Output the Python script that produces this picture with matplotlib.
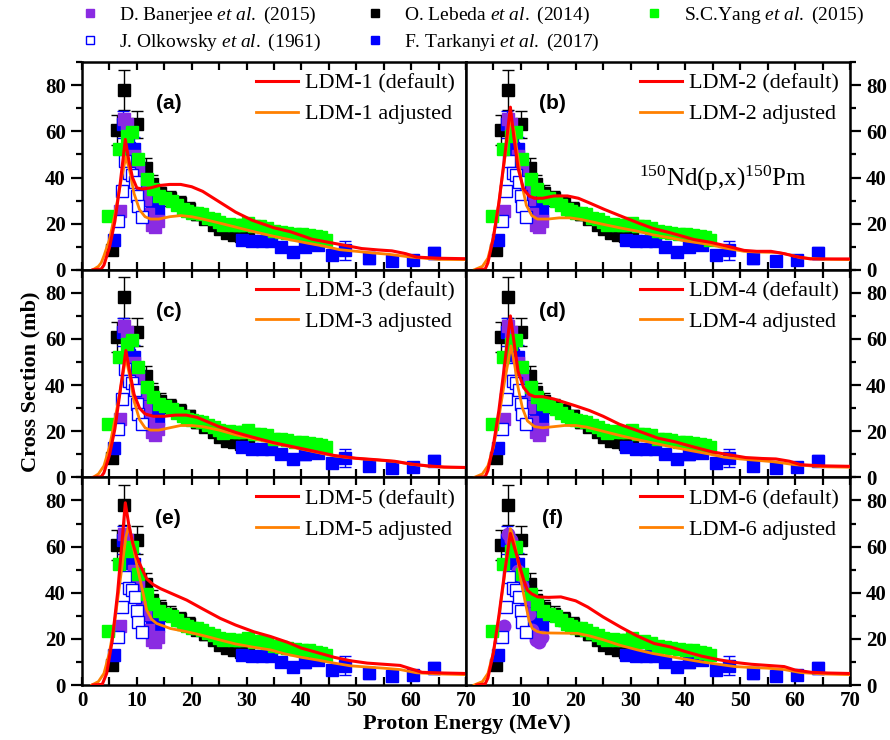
import matplotlib
matplotlib.use("Agg")
import matplotlib.pyplot as plt
from matplotlib.ticker import MultipleLocator, FuncFormatter, NullFormatter
from matplotlib.lines import Line2D

plt.rcParams['font.family'] = ['Liberation Serif', 'DejaVu Serif']
plt.rcParams['mathtext.fontset'] = 'custom'
plt.rcParams['mathtext.rm'] = 'Liberation Serif'
plt.rcParams['mathtext.it'] = 'Liberation Serif:italic'

# ---------------- experimental data ----------------
E_ban = [6.9, 7.6, 8.2, 9.4, 10.3, 10.9, 11.5, 12.1, 12.7, 13.3, 13.9]
S_ban = [25.5, 65.5, 63.0, 49.5, 43.0, 36.4, 30.6, 24.0, 19.6, 18.5, 21.0]

E_olk = [6.6, 7.3, 7.9, 8.5, 9.1, 9.7, 10.0, 10.3, 10.9]
S_olk = [21.0, 34.0, 47.0, 42.0, 41.0, 38.0, 32.0, 27.5, 23.0]

E_leb = [5.4, 6.3, 7.7, 10.0, 11.7, 12.7, 14.3, 16.1, 17.9, 19.5, 21.0, 22.5, 24.0, 25.2, 26.4, 27.7, 29.0, 30.3]
S_leb = [8.5, 60.8, 78.0, 63.0, 44.0, 37.0, 33.2, 31.0, 28.8, 26.5, 24.0, 22.0, 19.6, 17.5, 15.9, 15.2, 14.5, 14.0]
dS_leb = [1.0, 6.5, 8.7, 6.0, 4.5, 4.0, 3.5, 3.2, 3.0, 2.8, 2.5, 2.3, 2.1, 2.0, 1.8, 1.6, 1.5, 1.5]

E_tar = [5.8, 7.4, 8.5, 9.4, 10.3, 11.2, 11.9, 12.8, 13.8, 29.2, 31.0, 32.8, 34.4, 36.3, 38.4, 40.6, 43.0, 45.5, 47.9, 52.4, 56.5, 60.3, 64.1]
S_tar = [12.9, 63.0, 53.0, 52.4, 45.0, 35.0, 30.6, 27.0, 25.5, 13.1, 12.4, 12.4, 12.4, 10.0, 7.8, 10.0, 10.7, 6.3, 8.4, 5.1, 3.9, 4.4, 7.3]
dS_tar = [1.5, 6.0, 5.0, 5.0, 4.0, 3.5, 3.0, 3.0, 2.5, 1.5, 1.5, 1.5, 1.5, 1.5, 2.0, 2.5, 2.0, 1.5, 4.0, 2.5, 1.0, 1.5, 2.5]

E_yang = [4.8, 6.8, 8.3, 9.1, 10.3, 11.8, 13.0, 14.1, 15.2, 16.4, 17.4, 18.4, 19.2, 20.0, 21.0, 21.9, 23.0, 24.0,
          25.0, 25.8, 26.8, 27.7, 28.6, 29.5, 30.3, 31.3, 32.5, 33.7, 35.0, 36.2, 37.4, 38.8, 40.2, 41.4, 42.6, 43.5, 44.4]
S_yang = [23.3, 52.4, 58.0, 59.7, 48.0, 39.3, 35.0, 32.0, 31.0, 29.8, 28.0, 26.5, 25.5, 24.7, 24.5, 24.0, 22.5, 21.8,
          20.5, 19.4, 20.0, 19.6, 19.6, 19.6, 20.4, 18.8, 18.9, 18.2, 16.7, 16.5, 16.0, 15.5, 15.3, 15.0, 14.5, 14.0, 13.1]
dE_yang = [1.0, 0.6, 0.5, 0.5, 0.5, 0.5, 0.5, 0.5, 0.5, 0.5, 0.5, 0.5, 0.5, 0.5, 0.5, 0.5, 0.5, 0.5,
           0.5, 0.5, 0.5, 0.5, 0.5, 0.5, 0.5, 0.5, 0.5, 0.5, 0.5, 0.5, 0.5, 0.5, 0.5, 0.5, 0.5, 0.5, 0.5]

# ---------------- model curves ----------------
a_def_x = [2.0, 3.5, 4.0, 5.0, 6.0, 7.0, 7.9, 8.5, 9.2, 10.0, 11.0, 12.5, 14.0, 16.0, 18.0, 20.0, 22.0, 25.0, 28.0, 31.0,
           35.0, 38.0, 42.0, 47.0, 51.0, 54.0, 56.5, 59.0, 61.0, 65.0, 70.0]
a_def_y = [0, 0.3, 2, 9.5, 21, 38, 56.5, 48, 40, 35.5, 35, 35.5, 36.5, 37, 37, 36, 34, 29.5, 25, 21.5,
           18.2, 16.5, 13.2, 11, 9.2, 8.6, 8.2, 7, 5.5, 5, 4.8]
a_adj_x = [2.0, 3.0, 3.5, 4.0, 5.0, 6.0, 7.0, 8.0, 8.7, 9.5, 10.5, 11.5, 12.5, 14.0, 16.0, 18.0, 20.0, 22.0, 25.0, 28.0,
           31.0, 35.0, 38.0, 41.0, 44.0, 47.0, 50.0, 53.0, 56.0, 60.0, 65.0, 70.0]
a_adj_y = [0, 1.5, 3, 6, 13, 24, 37, 49, 43, 33, 26, 23, 22, 22, 23, 23.5, 23, 22, 20.3, 18.5,
           16.7, 14.5, 13, 11.6, 10.3, 8.7, 8, 7.3, 6.7, 5.5, 4.5, 4.4]

b_def_x = [2.0, 3.5, 4.0, 5.0, 6.0, 7.0, 8.1, 8.7, 9.5, 10.5, 11.5, 12.5, 14.0, 16.0, 18.5, 20.5, 22.5, 25.2, 28.0, 31.3,
           34.0, 37.3, 41.6, 44.6, 47.7, 50.7, 53.0, 55.6, 58.0, 60.0, 62.8, 66.0, 70.0]
b_def_y = [0, 0.3, 3, 14, 29, 48, 70.5, 58, 44, 35, 32, 31, 31, 32, 32, 31, 29, 26.2, 23.5, 20.4,
           18, 16, 13.1, 11.9, 10.2, 8.4, 8, 8, 7, 5.8, 4.7, 4.7, 4.7]
b_adj_x = [1.5, 3.0, 4.0, 5.0, 6.0, 7.0, 8.1, 8.8, 9.5, 10.2, 11.0, 12.0, 13.0, 15.0, 17.0, 19.0, 21.0, 25.2, 28.0, 31.3,
           34.0, 37.3, 40.0, 44.6, 47.0, 50.7, 53.0, 56.8, 59.0, 61.0, 65.0, 70.0]
b_adj_y = [0, 1.5, 5, 14, 29, 47, 66, 60, 48, 37, 28, 23.5, 22, 22, 22.5, 22.5, 21.8, 19.6, 18.2, 16.7,
           15.2, 13.8, 12.5, 10.9, 9.5, 8, 7.7, 7.5, 6.5, 5.2, 4.6, 4.4]

c_def_x = [2.0, 3.5, 4.0, 5.0, 6.0, 7.0, 8.0, 8.7, 9.5, 10.5, 11.5, 13.0, 15.0, 17.0, 19.0, 21.0, 23.0, 25.0, 28.0, 31.0,
           35.0, 38.0, 42.0, 46.0, 50.0, 54.0, 57.0, 60.0, 63.0, 66.0, 70.0]
c_def_y = [0, 0.3, 2, 9.5, 21, 38, 55, 46, 36, 30, 27.5, 26.5, 26.5, 27, 27, 26, 24, 22, 19.5, 17.5,
           15, 13.5, 11.5, 9.5, 8.3, 7.6, 7, 5.8, 5, 4.5, 4.3]
c_adj_x = [2.0, 3.0, 4.0, 5.0, 6.0, 7.0, 8.0, 8.7, 9.5, 10.5, 11.5, 12.5, 14.0, 16.0, 18.0, 20.0, 22.0, 25.0, 28.0, 31.0,
           35.0, 38.0, 42.0, 46.0, 50.0, 54.0, 57.0, 60.0, 63.0, 66.0, 70.0]
c_adj_y = [0, 1.5, 5, 13, 25, 38, 52, 44, 33, 25, 21.5, 20.5, 20.5, 21.5, 22.5, 22.5, 22, 20.5, 18.5, 17,
           14.8, 13.3, 11.3, 9.3, 8.2, 7.5, 6.9, 5.7, 4.9, 4.4, 4.2]

d_def_x = [2.0, 3.5, 4.0, 5.0, 6.0, 7.0, 8.1, 8.8, 9.5, 10.5, 11.5, 12.5, 14.0, 16.0, 18.0, 20.0, 22.5, 25.0, 28.0, 31.0,
           35.0, 38.0, 41.0, 45.0, 48.0, 51.0, 54.0, 56.5, 59.0, 61.0, 65.0, 70.0]
d_def_y = [0, 0.3, 3, 14, 29, 48, 70, 58, 46, 39, 36, 35, 35, 34, 32.5, 31, 29, 26.5, 23, 20.5,
           17, 15.5, 13.5, 11, 9.8, 8.6, 8.2, 8, 7, 5.5, 5, 4.8]
d_adj_x = [1.5, 3.0, 4.0, 5.0, 6.0, 7.0, 8.2, 8.8, 9.5, 10.3, 11.2, 12.5, 14.0, 16.0, 18.0, 20.0, 22.0, 25.0, 28.0, 31.0,
           35.0, 38.0, 41.0, 44.0, 47.0, 50.0, 53.0, 56.0, 60.0, 65.0, 70.0]
d_adj_y = [0, 1.5, 5, 13, 26, 41, 57, 50, 39, 30, 24.5, 22, 21.5, 22, 22.5, 22.5, 21.8, 20, 18.2, 16.5,
           14.5, 13, 11.6, 10.3, 8.8, 8, 7.4, 6.8, 5.5, 4.6, 4.4]

e_def_x = [2.0, 3.7, 4.5, 5.5, 6.5, 7.3, 7.9, 8.5, 9.2, 10.0, 11.0, 11.8, 13.0, 14.3, 16.5, 19.1, 22.0, 25.2, 28.0, 31.3,
           34.4, 37.5, 40.0, 43.0, 46.0, 49.0, 52.0, 55.0, 58.0, 60.0, 62.0, 66.0, 70.0]
e_def_y = [0, 0.3, 5, 19, 40, 62, 79, 70, 62, 55.5, 50, 46, 43.5, 41.8, 39.5, 36.8, 33, 28.9, 26, 23.1,
           21, 18.5, 16, 14, 12, 10.5, 9.5, 9, 8.5, 7, 5.5, 5.2, 5]
e_adj_x = [1.8, 3.0, 4.0, 5.0, 6.0, 7.0, 8.0, 8.5, 9.2, 10.0, 10.9, 11.8, 12.7, 13.6, 16.1, 19.1, 22.0, 25.2, 28.0, 31.0,
           34.4, 37.0, 40.0, 43.0, 46.0, 49.0, 52.0, 55.0, 58.0, 61.0, 65.0, 70.0]
e_adj_y = [0, 1.5, 5, 14, 28, 46, 64, 69, 62, 52, 42.5, 32.5, 28.5, 26.7, 24.5, 23.1, 21.5, 19.5, 17.8, 16.5,
           15.2, 13.5, 12, 10.8, 9.5, 8.3, 7.8, 7.3, 6.7, 5.3, 4.8, 4.5]

f_def_x = [2.0, 3.5, 4.0, 5.0, 6.0, 7.0, 8.1, 8.8, 9.4, 10.0, 10.6, 11.2, 12.0, 13.1, 15.0, 17.3, 20.0, 22.2, 25.0, 28.2,
           31.0, 34.3, 37.3, 40.0, 43.0, 46.0, 49.0, 52.0, 55.0, 58.0, 60.0, 63.0, 66.0, 70.0]
f_def_y = [0, 0.5, 3, 14, 30, 48, 65.7, 60, 55, 49.8, 45, 41.1, 39.5, 38.2, 38, 38.2, 36.5, 33.8, 29.5, 25.1,
           21.5, 18, 16.5, 14.5, 12.5, 11, 9.8, 9, 8.5, 8, 6.5, 5.5, 5.2, 5.0]
f_adj_x = [1.5, 3.0, 4.0, 5.0, 6.0, 7.0, 8.1, 8.8, 9.4, 10.0, 10.8, 11.5, 12.1, 13.0, 14.0, 17.0, 20.3, 22.5, 25.2, 28.0,
           31.3, 34.0, 37.3, 40.0, 43.0, 46.0, 49.0, 52.0, 55.0, 58.0, 61.0, 65.0, 70.0]
f_adj_y = [0, 1.5, 5, 14, 29, 47, 67.8, 62, 55, 45.5, 36, 28, 24.5, 23.2, 22.6, 22.5, 22.4, 21.3, 19.5, 17.3,
           15.2, 13.7, 12.3, 11.2, 10, 9, 8, 7.6, 7.3, 6.7, 5.4, 4.8, 4.5]

panel_tags = ['(a)', '(b)', '(c)', '(d)', '(e)', '(f)']
model_names = ['LDM-1', 'LDM-2', 'LDM-3', 'LDM-4', 'LDM-5', 'LDM-6']
curves = [(a_def_x, a_def_y, a_adj_x, a_adj_y), (b_def_x, b_def_y, b_adj_x, b_adj_y),
          (c_def_x, c_def_y, c_adj_x, c_adj_y), (d_def_x, d_def_y, d_adj_x, d_adj_y),
          (e_def_x, e_def_y, e_adj_x, e_adj_y), (f_def_x, f_def_y, f_adj_x, f_adj_y)]
reaction_label = r'$^{150}$Nd(p,x)$^{150}$Pm'

C_PURPLE = '#8a2be2'
C_BLUE = '#0000ff'
C_GREEN = '#00ff00'
C_RED = '#ff0000'
C_ORANGE = '#ff8000'

fig, axes = plt.subplots(3, 2, figsize=(8.9, 7.4), dpi=100)
fig.subplots_adjust(left=0.0921, right=0.955, top=0.916, bottom=0.0743, wspace=0, hspace=0)

ms = 8
for i, ax in enumerate(axes.flat):
    row, col = divmod(i, 2)
    ax.errorbar(E_leb, S_leb, yerr=dS_leb, fmt='s', color='black', ms=ms, elinewidth=1, capsize=4,
                mec='black', zorder=2)
    ax.errorbar(E_tar, S_tar, yerr=dS_tar, fmt='s', color=C_BLUE, ms=ms, elinewidth=1, capsize=4,
                mec=C_BLUE, zorder=2.1)
    ban_marker = 'o' if i == 5 else 's'
    ax.plot(E_ban, S_ban, ban_marker, color=C_PURPLE, ms=ms + (1 if i == 5 else 0), mec=C_PURPLE,
            linestyle='none', zorder=2.2)
    ax.plot(E_olk, S_olk, 's', mfc='white', mec=C_BLUE, ms=ms, mew=1, linestyle='none', zorder=2.3)
    ax.errorbar(E_yang, S_yang, xerr=dE_yang, fmt='s', color=C_GREEN, ms=ms, elinewidth=1, capsize=3,
                mec=C_GREEN, zorder=2.4)
    dx, dy, ax_, ay_ = curves[i]
    l1, = ax.plot(dx, dy, color=C_RED, lw=2.2, zorder=4, label=f'{model_names[i]} (default)')
    l2, = ax.plot(ax_, ay_, color=C_ORANGE, lw=2.0, zorder=3.9, label=f'{model_names[i]} adjusted')

    ax.legend(handles=[l1, l2], loc='upper right', frameon=False, fontsize=16, handlelength=1.9,
              handletextpad=0.3, borderaxespad=0.1, labelspacing=0.45)
    ax.text(0.225, 0.80, panel_tags[i], transform=ax.transAxes, ha='center', va='center',
            fontsize=15, fontweight='bold', family=['Liberation Sans', 'DejaVu Sans'])

    ax.set_xlim(0, 70)
    ax.set_ylim(0, 90)
    ax.xaxis.set_major_locator(MultipleLocator(10))
    ax.xaxis.set_minor_locator(MultipleLocator(5))
    ax.yaxis.set_major_locator(MultipleLocator(20))
    ax.yaxis.set_minor_locator(MultipleLocator(10))
    for sp in ax.spines.values():
        sp.set_linewidth(1.8)
    ax.tick_params(axis='x', which='both', direction='in', top=True, bottom=True, length=6, width=1.6,
                   labelsize=15, pad=4)
    if row < 2:
        ax.xaxis.set_major_formatter(NullFormatter())
    elif i == 5:
        ax.xaxis.set_major_formatter(FuncFormatter(lambda v, p: '' if v == 0 else f'{v:g}'))
    if col == 0:
        ax.tick_params(axis='y', which='major', direction='out', left=True, right=False, length=8, width=1.6,
                       labelleft=True, labelright=False, labelsize=15)
        ax.tick_params(axis='y', which='minor', direction='out', left=True, right=False, length=4.5, width=1.6)
    else:
        ax.tick_params(axis='y', which='major', direction='out', left=False, right=True, length=8, width=1.6,
                       labelleft=False, labelright=True, labelsize=15)
        ax.tick_params(axis='y', which='minor', direction='out', left=False, right=True, length=4.5, width=1.6)

axes[0, 1].text(0.45, 0.44, reaction_label, transform=axes[0, 1].transAxes, fontsize=18, ha='left', va='center')

fig.canvas.draw()
for ax in axes.flat:
    for lab in ax.get_xticklabels() + ax.get_yticklabels():
        lab.set_fontweight('bold')

fig.text(0.034, 0.484, 'Cross Section (mb)', rotation=90, ha='center', va='center', fontsize=16, fontweight='bold')
fig.text(0.525, 0.022, 'Proton Energy (MeV)', ha='center', va='center', fontsize=16, fontweight='bold')

labels = [r'D. Banerjee $\mathit{et\ al.}$ (2015)', r'J. Olkowsky $\mathit{et\ al.}$ (1961)',
          r'O. Lebeda $\mathit{et\ al.}$ (2014)', r'F. Tarkanyi $\mathit{et\ al.}$ (2017)',
          r'S.C.Yang $\mathit{et\ al.}$ (2015)']
leg_handles = [Line2D([], [], marker='s', color=C_PURPLE, ls='none', ms=6),
               Line2D([], [], marker='s', mfc='white', mec=C_BLUE, ls='none', ms=6),
               Line2D([], [], marker='s', color='black', ls='none', ms=6),
               Line2D([], [], marker='s', color=C_BLUE, ls='none', ms=6),
               Line2D([], [], marker='s', color=C_GREEN, ls='none', ms=6)]
fig.legend(leg_handles, labels, loc='upper left', bbox_to_anchor=(0.07, 1.017), ncol=3, frameon=False,
           fontsize=14, handlelength=1.0, handletextpad=1.0, columnspacing=2.3, labelspacing=0.3)

fig.savefig('out.png', dpi=100)
